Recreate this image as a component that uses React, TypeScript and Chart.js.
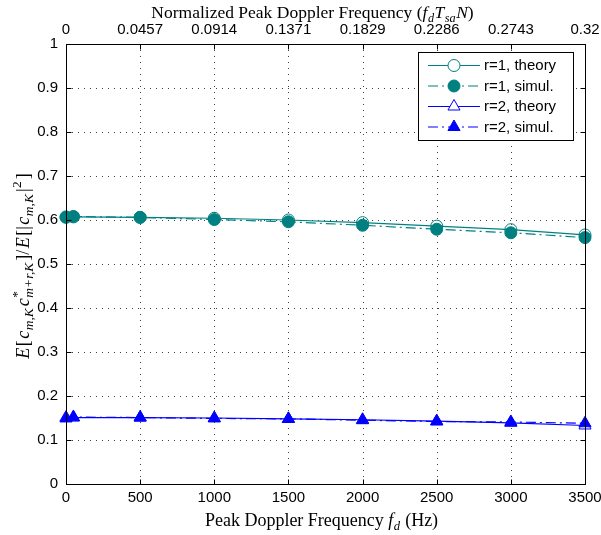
import React, { useEffect, useRef } from "react";
import { Chart, registerables } from "chart.js";

Chart.register(...registerables);

// Peak Doppler frequency (Hz) at which each curve is evaluated
const freqHz = [0, 50, 500, 1000, 1500, 2000, 2500, 3000, 3500];

// Normalized correlation E[c c*]/E[|c|^2]
const r1Theory = [0.607, 0.607, 0.606, 0.604, 0.6, 0.594, 0.586, 0.578, 0.566];
const r1Simul = [0.606, 0.608, 0.606, 0.601, 0.596, 0.588, 0.579, 0.571, 0.56];
const r2Theory = [0.151, 0.151, 0.151, 0.15, 0.148, 0.146, 0.143, 0.139, 0.133];
const r2Simul = [0.149, 0.152, 0.151, 0.149, 0.148, 0.145, 0.142, 0.141, 0.138];

const seriesLabels = ["r=1, theory", "r=1, simul.", "r=2, theory", "r=2, simul."];

const xTicks = [0, 500, 1000, 1500, 2000, 2500, 3000, 3500];
const yTicks = [0, 0.1, 0.2, 0.3, 0.4, 0.5, 0.6, 0.7, 0.8, 0.9, 1];
const topTickValues = [0, 0.0457, 0.0914, 0.1371, 0.1829, 0.2286, 0.2743, 0.32];
const topTickLabels = ["0", "0.0457", "0.0914", "0.1371", "0.1829", "0.2286", "0.2743", "0.32"];

const TEAL = "#008080";
const BLUE = "#0000ff";
const DASH_DOT = [10, 4, 2, 4];
const SANS = '"Liberation Sans", Arial, sans-serif';
const SERIF = '"Liberation Serif", "Times New Roman", serif';

type Seg = { t: string; it?: boolean; sub?: string; sup?: string };
type RichOpts = { size: number; small: number; gap: number };

function font(size: number, it?: boolean) {
  return `${it ? "italic " : ""}${size}px ${SERIF}`;
}

function segWidth(ctx: CanvasRenderingContext2D, s: Seg, o: RichOpts) {
  ctx.font = font(o.size, s.it);
  const w = ctx.measureText(s.t).width;
  const small = o.size * o.small;
  let extra = 0;
  if (s.sub) {
    ctx.font = font(small, true);
    extra = Math.max(extra, ctx.measureText(s.sub).width);
  }
  if (s.sup) {
    ctx.font = font(small, false);
    extra = Math.max(extra, ctx.measureText(s.sup).width);
  }
  return w + extra + (extra ? 1 : 0) + o.gap;
}

function drawRich(ctx: CanvasRenderingContext2D, segs: Seg[], cx: number, cy: number, o: RichOpts) {
  const total = segs.reduce((a, s) => a + segWidth(ctx, s, o), 0) - o.gap;
  let x = cx - total / 2;
  const size = o.size;
  const base = cy + size * 0.33;
  const small = size * o.small;
  ctx.fillStyle = "#000";
  ctx.textAlign = "left";
  ctx.textBaseline = "alphabetic";
  for (const s of segs) {
    ctx.font = font(size, s.it);
    ctx.fillText(s.t, x, base);
    const xs = x + ctx.measureText(s.t).width + (s.sub || s.sup ? 0.5 : 0);
    if (s.sub) {
      ctx.font = font(small, true);
      ctx.fillText(s.sub, xs, base + size * 0.25);
    }
    if (s.sup) {
      ctx.font = font(small, false);
      ctx.fillText(s.sup, xs, base - size * 0.42);
    }
    x += segWidth(ctx, s, o);
  }
}

const bottomTitle: Seg[] = [
  { t: "Peak Doppler Frequency " },
  { t: "f", it: true, sub: "d" },
  { t: " (Hz)" },
];
const topTitle: Seg[] = [
  { t: "Normalized Peak Doppler Frequency (" },
  { t: "f", it: true, sub: "d" },
  { t: "T", it: true, sub: "sa" },
  { t: "N", it: true },
  { t: ")" },
];
const leftTitle: Seg[] = [
  { t: "E", it: true },
  { t: "[" },
  { t: "c", it: true, sub: "m,K" },
  { t: "c", it: true, sub: "m+r,K", sup: "*" },
  { t: "]/" },
  { t: "E", it: true },
  { t: "[|" },
  { t: "c", it: true, sub: "m,K" },
  { t: "|", sup: "2" },
  { t: "]" },
];

const framePlugin = {
  id: "frame",
  beforeDatasetsDraw(chart: any) {
    const { ctx, chartArea: a, scales } = chart;
    ctx.save();
    ctx.strokeStyle = "rgba(0,0,0,0.75)";
    ctx.lineWidth = 1;
    ctx.setLineDash([1, 5]);
    for (const v of xTicks) {
      const px = Math.round(scales.x.getPixelForValue(v)) + 0.5;
      ctx.beginPath();
      ctx.moveTo(px, a.top);
      ctx.lineTo(px, a.bottom);
      ctx.stroke();
    }
    for (const v of yTicks) {
      const py = Math.round(scales.y.getPixelForValue(v)) + 0.5;
      ctx.beginPath();
      ctx.moveTo(a.left, py);
      ctx.lineTo(a.right, py);
      ctx.stroke();
    }
    ctx.restore();
  },
  afterDatasetsDraw(chart: any) {
    const { ctx, chartArea: a, scales } = chart;
    ctx.save();
    ctx.strokeStyle = "#000";
    ctx.lineWidth = 1;
    ctx.setLineDash([]);
    const L = Math.round(a.left) + 0.5;
    const R = Math.round(a.right) + 0.5;
    const T = Math.round(a.top) + 0.5;
    const B = Math.round(a.bottom) + 0.5;
    ctx.strokeRect(L, T, R - L, B - T);
    const tick = 5;
    ctx.beginPath();
    for (const v of xTicks) {
      const px = Math.round(scales.x.getPixelForValue(v)) + 0.5;
      ctx.moveTo(px, B);
      ctx.lineTo(px, B - tick);
    }
    for (const v of topTickValues) {
      const px = Math.round(scales.x2.getPixelForValue(v)) + 0.5;
      ctx.moveTo(px, T);
      ctx.lineTo(px, T + tick);
    }
    for (const v of yTicks) {
      const py = Math.round(scales.y.getPixelForValue(v)) + 0.5;
      ctx.moveTo(L, py);
      ctx.lineTo(L + tick, py);
      ctx.moveTo(R, py);
      ctx.lineTo(R - tick, py);
    }
    ctx.stroke();

    // axis titles
    const cx = (a.left + a.right) / 2;
    drawRich(ctx, bottomTitle, cx - 4, 520, { size: 18, small: 0.7, gap: 0 });
    drawRich(ctx, topTitle, cx - 13, 12, { size: 17.5, small: 0.7, gap: 0 });
    ctx.save();
    ctx.translate(23, 266);
    ctx.rotate(-Math.PI / 2);
    drawRich(ctx, leftTitle, 0, 0, { size: 18, small: 0.75, gap: 1.5 });
    ctx.restore();

    // legend
    const bx = 418.5, by = 52.5, bw = 155, bh = 88;
    ctx.fillStyle = "#fff";
    ctx.fillRect(bx, by, bw, bh);
    ctx.strokeStyle = "#000";
    ctx.strokeRect(bx, by, bw, bh);
    const rows = [65, 85.5, 106, 126.5];
    chart.data.datasets.forEach((ds: any, i: number) => {
      const y = rows[i] + 0.5;
      ctx.strokeStyle = ds.borderColor;
      ctx.lineWidth = ds.borderWidth;
      ctx.setLineDash(ds.borderDash || []);
      ctx.beginPath();
      ctx.moveTo(428, y);
      ctx.lineTo(480, y);
      ctx.stroke();
      ctx.setLineDash([]);
      ctx.strokeStyle = ds.pointBorderColor;
      ctx.lineWidth = 1;
      const fill = ds.pointBackgroundColor === "rgba(0,0,0,0)" ? "#fff" : ds.pointBackgroundColor;
      ctx.beginPath();
      if (ds.pointStyle === "circle") {
        ctx.arc(454, y, 6, 0, Math.PI * 2);
      } else {
        const r = 7;
        ctx.moveTo(454, y - r);
        ctx.lineTo(454 + r * 0.866, y + r * 0.5);
        ctx.lineTo(454 - r * 0.866, y + r * 0.5);
        ctx.closePath();
      }
      ctx.fillStyle = fill;
      ctx.fill();
      ctx.stroke();
      ctx.fillStyle = "#000";
      ctx.font = `15px ${SANS}`;
      ctx.textAlign = "left";
      ctx.textBaseline = "middle";
      ctx.fillText(ds.label, 484, y + 0.5);
    });
    ctx.restore();
  },
};

function series(values: number[]) {
  return freqHz.map((x, i) => ({ x, y: values[i] }));
}

export default function App() {
  const ref = useRef<HTMLCanvasElement | null>(null);

  useEffect(() => {
    if (!ref.current) return;
    const mk = (label: string, values: number[], color: string, style: string, filled: boolean, dashed: boolean) => ({
      label,
      data: series(values),
      borderColor: color,
      borderWidth: 1.2,
      borderDash: dashed ? DASH_DOT : [],
      pointStyle: style,
      pointRadius: style === "circle" ? 6 : 7,
      pointBorderWidth: 1,
      pointBorderColor: color,
      pointBackgroundColor: filled ? color : "rgba(0,0,0,0)",
      fill: false,
      tension: 0,
      clip: false as any,
    });
    const chart = new Chart(ref.current, {
      type: "line",
      data: {
        datasets: [
          mk(seriesLabels[0], r1Theory, TEAL, "circle", false, false),
          mk(seriesLabels[1], r1Simul, TEAL, "circle", true, true),
          mk(seriesLabels[2], r2Theory, BLUE, "triangle", false, false),
          mk(seriesLabels[3], r2Simul, BLUE, "triangle", true, true),
        ] as any,
      },
      options: {
        animation: false,
        responsive: false,
        events: [],
        layout: { padding: { left: 0, right: 16, top: 0, bottom: 0 } },
        plugins: { legend: { display: false }, tooltip: { enabled: false } },
        scales: {
          x: {
            type: "linear",
            position: "bottom",
            min: 0,
            max: 3500,
            grid: { display: false, drawTicks: false },
            border: { display: false },
            afterBuildTicks: (s: any) => {
              s.ticks = xTicks.map((value) => ({ value }));
            },
            afterFit: (s: any) => {
              s.height = 51;
              s.paddingLeft = 0;
              s.paddingRight = 0;
            },
            ticks: {
              autoSkip: false,
              maxRotation: 0,
              padding: 5,
              color: "#000",
              font: { family: SANS, size: 15 },
              callback: (v: any) => String(v),
            },
          },
          x2: {
            type: "linear",
            position: "top",
            min: 0,
            max: 0.32,
            grid: { display: false, drawTicks: false },
            border: { display: false },
            afterBuildTicks: (s: any) => {
              s.ticks = topTickValues.map((value) => ({ value }));
            },
            afterFit: (s: any) => {
              s.height = 44;
              s.paddingLeft = 0;
              s.paddingRight = 0;
            },
            ticks: {
              autoSkip: false,
              maxRotation: 0,
              padding: 5,
              color: "#000",
              font: { family: SANS, size: 15 },
              callback: (_v: any, i: number) => topTickLabels[i],
            },
          },
          y: {
            type: "linear",
            position: "left",
            min: 0,
            max: 1,
            grid: { display: false, drawTicks: false },
            border: { display: false },
            afterBuildTicks: (s: any) => {
              s.ticks = yTicks.map((value) => ({ value }));
            },
            afterFit: (s: any) => {
              s.width = 66;
              s.paddingTop = 0;
              s.paddingBottom = 0;
            },
            ticks: {
              autoSkip: false,
              padding: 8,
              color: "#000",
              font: { family: SANS, size: 15 },
              callback: (v: any) => String(Number(Number(v).toFixed(1))),
            },
          },
        },
      } as any,
      plugins: [framePlugin],
    });
    return () => chart.destroy();
  }, []);

  return (
    <div style={{ position: "absolute", left: 0, top: 0, width: 601, height: 535, background: "#fff" }}>
      <canvas ref={ref} width={601} height={535} style={{ display: "block" }} />
    </div>
  );
}
